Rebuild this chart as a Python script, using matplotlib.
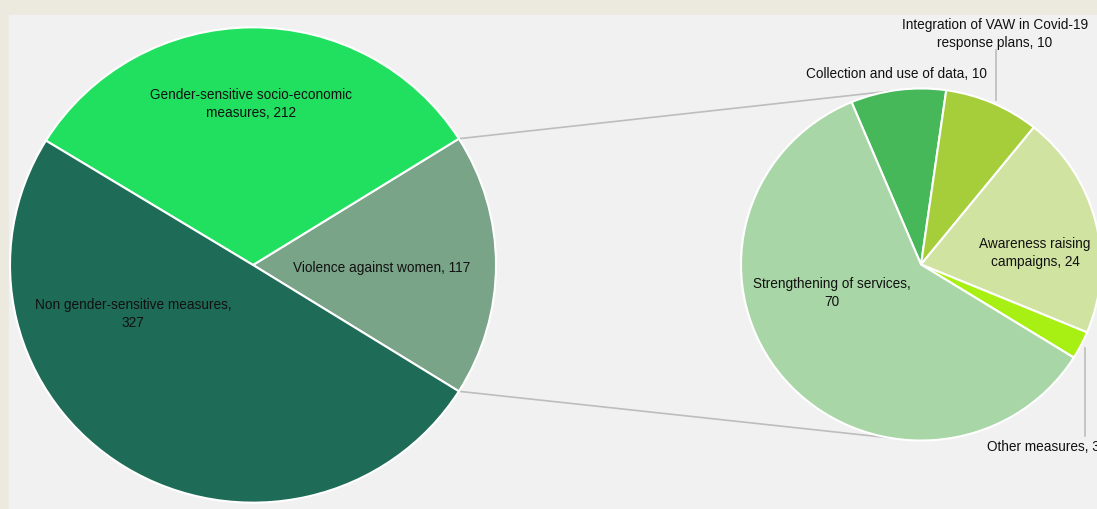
import numpy as np
import matplotlib
matplotlib.use('Agg')
import matplotlib.pyplot as plt
from matplotlib.patches import Rectangle

plt.rcParams['font.family'] = ['Liberation Sans', 'DejaVu Sans']

# main pie: measures by type (counter-clockwise from the right-hand slice)
MAIN_LABELS = ['Violence against women', 'Gender-sensitive socio-economic\nmeasures',
               'Non gender-sensitive measures,\n']
MAIN_VALUES = [117, 212, 327]
MAIN_COLORS = ['#79a488', '#21e060', '#1e6b57']

# breakdown of the VAW slice (clockwise from the top-left boundary)
SUB_LABELS = ['Collection and use of data', 'Integration of VAW in Covid-19\nresponse plans',
              'Awareness raising\ncampaigns', 'Other measures', 'Strengthening of services,\n']
SUB_VALUES = [10, 10, 24, 3, 70]
SUB_COLORS = ['#47b85a', '#a6ce3a', '#d1e3a1', '#a8ef14', '#a8d6a6']

W, H = 1097, 509
SQ = 0.978  # pies are drawn slightly squashed vertically


def Y(py):
  # pixel row (from top) -> data y
  return (H - py) / SQ


fig = plt.figure(figsize=(W / 100, H / 100), dpi=100, facecolor='#ece9df')
ax = fig.add_axes([0, 0, 1, 1])
ax.add_patch(Rectangle((9, 0), W - 9, Y(15), color='#f1f1f1', zorder=0))

c_main, r_main = (253, Y(265)), 243
c_sub, r_sub = (921, Y(264.5)), 180

wp = dict(edgecolor='white', linewidth=1.5)
main_w, _ = ax.pie(MAIN_VALUES, colors=MAIN_COLORS, center=c_main, radius=r_main,
                   startangle=-MAIN_VALUES[0] / sum(MAIN_VALUES) * 180,
                   counterclock=True, wedgeprops=wp, frame=True)
sub_w, _ = ax.pie(SUB_VALUES, colors=SUB_COLORS, center=c_sub, radius=r_sub,
                  startangle=112.7, counterclock=False, wedgeprops=wp, frame=True)
ax.set_aspect('auto')
ax.set_xlim(0, W); ax.set_ylim(0, Y(0)); ax.axis('off')


def on_circle(c, r, deg):
  t = np.radians(deg)
  return c[0] + r * np.cos(t), c[1] + r * np.sin(t)


# connectors from the VAW slice edges to the breakdown pie
vaw = main_w[0]
for a_main, a_sub in [(vaw.theta2, 100), (vaw.theta1, -100)]:
  x0, y0 = on_circle(c_main, r_main, a_main)
  x1, y1 = on_circle(c_sub, r_sub, a_sub)
  ax.plot([x0, x1], [y0, y1], color='#bdbdbd', lw=1.2, zorder=0.5)

fs = 9.8
txt = dict(fontsize=fs, color='#111111', ha='center', va='center', linespacing=1.3)
ax.text(251, Y(104), f'{MAIN_LABELS[1]}, {MAIN_VALUES[1]}', **txt)
ax.text(382, Y(268), f'{MAIN_LABELS[0]}, {MAIN_VALUES[0]}', **txt)
ax.text(133, Y(314), f'{MAIN_LABELS[2]}{MAIN_VALUES[2]}', **txt)
ax.text(832, Y(293), f'{SUB_LABELS[4]}{SUB_VALUES[4]}', **txt)
ax.text(1035, Y(253), f'{SUB_LABELS[2]}, {SUB_VALUES[2]}', **txt)
ax.text(896, Y(74), f'{SUB_LABELS[0]}, {SUB_VALUES[0]}', **txt)
ax.text(995, Y(34), f'{SUB_LABELS[1]}, {SUB_VALUES[1]}', **txt)
ax.text(987, Y(447), f'{SUB_LABELS[3]}, {SUB_VALUES[3]}', fontsize=fs, color='#111111',
        ha='left', va='center')

# leader lines for the small slices
ax.plot([996, 996], [Y(50), Y(100)], color='#bdbdbd', lw=1.2)
ax.plot([1085, 1085], [Y(348), Y(436)], color='#bdbdbd', lw=1.2)

fig.savefig('out.png', dpi=100, facecolor=fig.get_facecolor())
